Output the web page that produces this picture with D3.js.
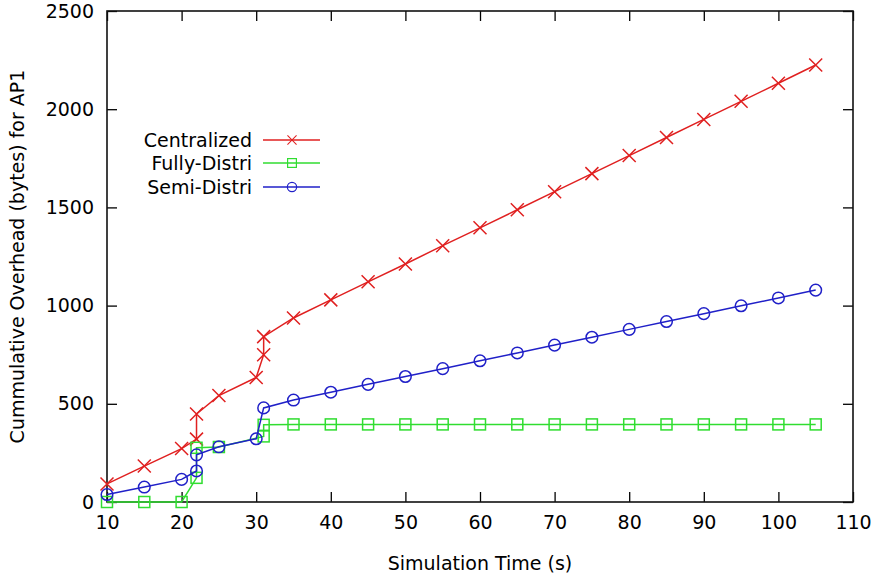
<!DOCTYPE html>
<html>
  <head>
    <meta charset="UTF-8" />
    <style>
      body {
        margin: 0;
        background: #ffffff;
      }
      svg text {
        font-family: "DejaVu Sans", sans-serif;
        font-size: 19px;
        fill: #000;
      }
    </style>
  </head>
  <body>
    <svg id="chart" width="878" height="577"></svg>

    <script src="https://d3js.org/d3.v7.min.js"></script>
    <script>
      // simulation time (s) of each sample, per series
      const centralTime = [10, 15, 20, 22, 22, 25, 30, 31, 31, 35, 40, 45, 50, 55, 60, 65, 70, 75, 80, 85, 90, 95, 100, 105];
      const centralBytes = [92, 183, 272, 320, 448, 542, 634, 750, 842, 937, 1029, 1121, 1212, 1305, 1396, 1488, 1580, 1672, 1764, 1856, 1948, 2040, 2132, 2225];

      const fullyTime = [10, 15, 20, 22, 22, 25, 31, 31, 35, 40, 45, 50, 55, 60, 65, 70, 75, 80, 85, 90, 95, 100, 105];
      const fullyBytes = [0, 0, 0, 123, 276, 280, 334, 393, 395, 395, 395, 395, 395, 395, 395, 395, 395, 395, 395, 395, 395, 395, 395];

      const semiTime = [10, 15, 20, 22, 22, 25, 30, 31, 35, 40, 45, 50, 55, 60, 65, 70, 75, 80, 85, 90, 95, 100, 105];
      const semiBytes = [38, 76, 115, 158, 240, 281, 322, 479, 519, 559, 599, 639, 679, 719, 759, 799, 839, 879, 919, 959, 999, 1039, 1079];

      const seriesNames = ["Centralized", "Fully-Distri", "Semi-Distri"];
      const xTicks = [10, 20, 30, 40, 50, 60, 70, 80, 90, 100, 110];
      const yTicks = [0, 500, 1000, 1500, 2000, 2500];

      const colors = ["#e02020", "#30dd30", "#2020c8"];
      const shapes = ["cross", "square", "circle"];

      const plotL = 107, plotR = 853, plotT = 11, plotB = 502;

      const svg = d3.select("#chart");

      const x = d3.scaleLinear().domain([10, 110]).range([plotL, plotR]);
      const y = d3.scaleLinear().domain([0, 2500]).range([plotB, plotT]);

      // ticks on all four sides, pointing inward
      const tickLen = 10;
      const fmt = d3.format("d");
      const axisGroup = svg.append("g");
      axisGroup.append("g")
        .attr("transform", `translate(0,${plotB})`)
        .call(d3.axisBottom(x).tickValues(xTicks).tickFormat(fmt).tickSizeInner(-tickLen).tickSizeOuter(0).tickPadding(14));
      axisGroup.append("g")
        .attr("transform", `translate(0,${plotT})`)
        .call(d3.axisTop(x).tickValues(xTicks).tickSizeInner(-tickLen).tickSizeOuter(0).tickFormat(""));
      axisGroup.append("g")
        .attr("transform", `translate(${plotL},0)`)
        .call(d3.axisLeft(y).tickValues(yTicks).tickFormat(fmt).tickSizeInner(-tickLen).tickSizeOuter(0).tickPadding(13));
      axisGroup.append("g")
        .attr("transform", `translate(${plotR},0)`)
        .call(d3.axisRight(y).tickValues(yTicks).tickSizeInner(-tickLen).tickSizeOuter(0).tickFormat(""));

      axisGroup.selectAll(".domain").remove();
      axisGroup.selectAll(".tick line").attr("stroke", "#000").attr("stroke-width", 1.3);
      axisGroup.selectAll(".tick text")
        .style("font-family", "DejaVu Sans, sans-serif")
        .style("font-size", "19px")
        .attr("fill", "#000");

      svg.append("rect")
        .attr("x", plotL)
        .attr("y", plotT)
        .attr("width", plotR - plotL)
        .attr("height", plotB - plotT)
        .attr("fill", "none")
        .attr("stroke", "#111")
        .attr("stroke-width", 1.6);

      // axis titles
      svg.append("text")
        .attr("x", (plotL + plotR) / 2)
        .attr("y", 570)
        .attr("text-anchor", "middle")
        .text("Simulation Time (s)");

      svg.append("text")
        .attr("transform", `translate(24,${(plotT + plotB) / 2}) rotate(-90)`)
        .attr("text-anchor", "middle")
        .text("Cummulative Overhead (bytes) for AP1");

      function drawMarker(g, shape, cx, cy, color) {
        if (shape === "cross") {
          const s = 6.5;
          g.append("path")
            .attr("d", `M${cx - s},${cy - s}L${cx + s},${cy + s}M${cx - s},${cy + s}L${cx + s},${cy - s}`)
            .attr("stroke", color).attr("stroke-width", 1.5).attr("fill", "none");
        } else if (shape === "square") {
          const s = 5.5;
          g.append("rect")
            .attr("x", cx - s).attr("y", cy - s).attr("width", 2 * s).attr("height", 2 * s)
            .attr("stroke", color).attr("stroke-width", 1.5).attr("fill", "none");
        } else {
          g.append("circle")
            .attr("cx", cx).attr("cy", cy).attr("r", 5.8)
            .attr("stroke", color).attr("stroke-width", 1.5).attr("fill", "none");
        }
      }

      const series = [
        { name: seriesNames[0], xs: centralTime, ys: centralBytes },
        { name: seriesNames[1], xs: fullyTime, ys: fullyBytes },
        { name: seriesNames[2], xs: semiTime, ys: semiBytes }
      ];

      const line = d3.line().x((d) => x(d[0])).y((d) => y(d[1]));

      // semi-distri is drawn last so it sits on top
      series.forEach((s, i) => {
        const pts = s.xs.map((t, k) => [t, s.ys[k]]);
        const g = svg.append("g");
        g.append("path")
          .datum(pts)
          .attr("d", line)
          .attr("fill", "none")
          .attr("stroke", colors[i])
          .attr("stroke-width", 1.5);
        pts.forEach((p) => drawMarker(g, shapes[i], x(p[0]), y(p[1]), colors[i]));
      });

      // legend
      const legendRows = [140, 163, 187];
      const legendMarkSize = [0.7, 0.8, 0.8];
      series.forEach((s, i) => {
        const ly = legendRows[i];
        svg.append("text")
          .attr("x", 252)
          .attr("y", ly)
          .attr("dy", "0.35em")
          .attr("text-anchor", "end")
          .text(s.name);
        svg.append("line")
          .attr("x1", 263).attr("x2", 320)
          .attr("y1", ly).attr("y2", ly)
          .attr("stroke", colors[i]).attr("stroke-width", 1.5);
        const mg = svg.append("g")
          .attr("transform", `translate(292,${ly}) scale(${legendMarkSize[i]})`);
        drawMarker(mg, shapes[i], 0, 0, colors[i]);
      });
    </script>
  </body>
</html>
